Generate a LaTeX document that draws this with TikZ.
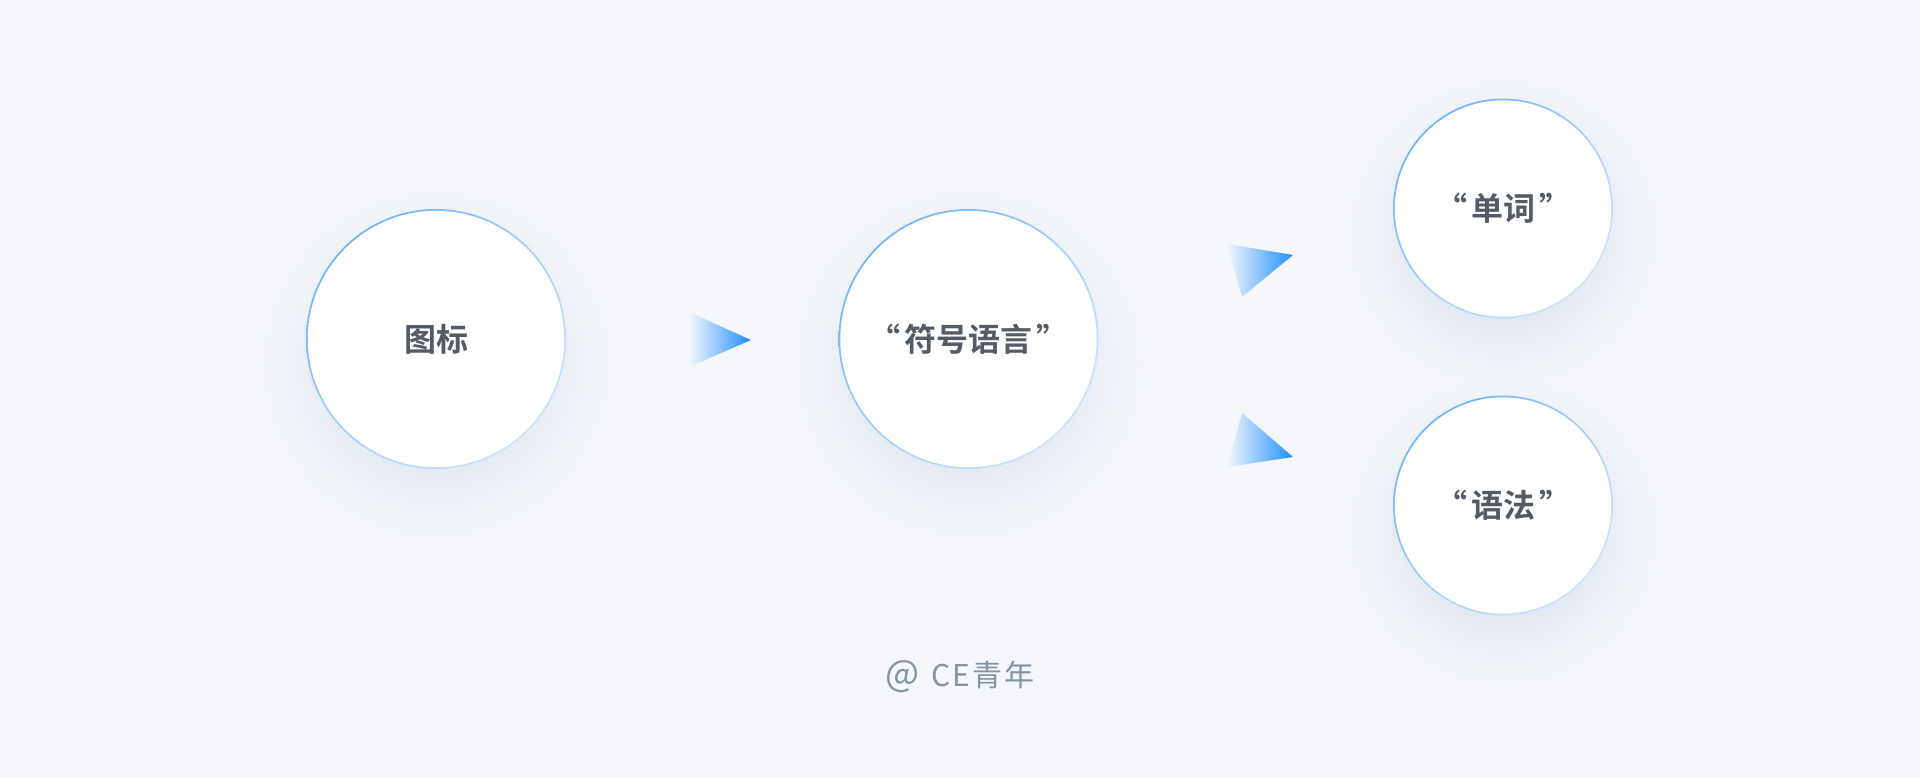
\documentclass[tikz,border=0pt]{standalone}
\usepackage{fontspec}
\usetikzlibrary{backgrounds,shadings}
\newfontfamily\cjk{Noto Sans CJK SC}[BoldFont={Noto Sans CJK SC Bold}]
\newfontfamily\cjkmark{Noto Sans CJK SC}[LetterSpace=6]
\definecolor{bg}{HTML}{F5F7FB}
\definecolor{txt}{HTML}{555B64}
\definecolor{arrowblue}{HTML}{1E8EFF}
\definecolor{rimA}{HTML}{56A8FF}
\definecolor{rimM}{HTML}{A3CFFF}
\definecolor{rimB}{HTML}{DCEBFC}
\definecolor{shad}{HTML}{E4E9F1}
\definecolor{wm}{HTML}{8494A2}
\pgfdeclareradialshading{softshadow}{\pgfpoint{0bp}{0bp}}{color(0bp)=(shad); color(14bp)=(shad); color(25bp)=(bg); color(50bp)=(bg)}
\newcommand\openq{“\hspace{4pt}}
\newcommand\closeq{\hspace{4pt}”}
\tikzset{
  bubble/.style={circle, inner sep=0pt, text=txt, font=\cjk\bfseries\fontsize{32}{38}\selectfont},
  pointer/.style={left color=bg, right color=arrowblue},
}
\newcommand\bubbleshadow[2]{%
  \shade[shading=softshadow] ([yshift=-25]#1.center) circle[radius=#2+48];
}
\newcommand\bubbleface[2]{%
  \shade[upper left=rimA, upper right=rimM, lower left=rimM, lower right=rimB] (#1.center) circle[radius=#2+1];
  \fill[white] (#1.center) circle[radius=#2-0.8];
}
\begin{document}
\begin{tikzpicture}[x=1pt,y=-1pt]
\useasboundingbox (0,0) rectangle (1920,778);
\node[bubble, minimum size=258] (icon) at (436,339) {图标};
\node[bubble, minimum size=258] (sym) at (968.5,339) {\openq 符号语言\closeq};
\node[bubble, minimum size=218] (word) at (1503,208.5) {\openq 单词\closeq};
\node[bubble, minimum size=218] (gram) at (1503,505.5) {\openq 语法\closeq};
\begin{scope}[on background layer]
  \fill[bg] (0,0) rectangle (1920,778);
  \begin{scope}[blend mode=darken]
    \bubbleshadow{icon}{129}
    \bubbleshadow{sym}{129}
    \bubbleshadow{word}{109}
    \bubbleshadow{gram}{109}
  \end{scope}
  \bubbleface{icon}{129}
  \bubbleface{sym}{129}
  \bubbleface{word}{109}
  \bubbleface{gram}{109}
\end{scope}
\coordinate (a1) at (689,312); \coordinate (a2) at (751,340); \coordinate (a3) at (689,367);
\coordinate (b1) at (1227,244); \coordinate (b2) at (1293,255); \coordinate (b3) at (1242,297);
\coordinate (c1) at (1242,413); \coordinate (c2) at (1293,457); \coordinate (c3) at (1227,467);
\shade[pointer] (a1) -- (a2) -- (a3) -- cycle;
\shade[pointer] (b1) -- (b2) -- (b3) -- cycle;
\shade[pointer] (c1) -- (c2) -- (c3) -- cycle;
\node[text=wm, font=\cjkmark\fontsize{30}{36}\selectfont] (mark) at (960,677) {{\fontsize{36}{36}\selectfont @}\hspace{12pt}CE青年};
\end{tikzpicture}
\end{document}
